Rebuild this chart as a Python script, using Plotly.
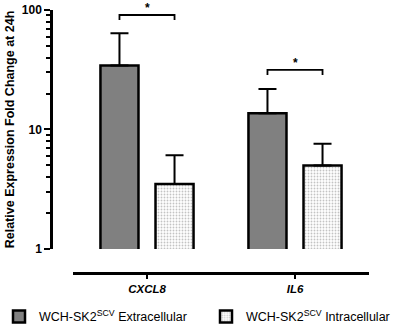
import plotly.graph_objects as go
import math

genes = ["CXCL8", "IL6"]
extracellular_mean = [34.3, 13.7]
extracellular_upper = [63.8, 21.8]
intracellular_mean = [3.5, 5.0]
intracellular_upper = [6.1, 7.6]
y_ticks = [1, 10, 100]
minor_ticks = [2, 3, 4, 5, 6, 7, 8, 9, 20, 30, 40, 50, 60, 70, 80, 90]
bracket_level = [90.8, 31.5]
bracket_foot = [82.5, 28.6]

xpos = list(range(len(genes)))
bw = 0.257
half = 0.186

fig = go.Figure()
fig.add_trace(go.Bar(
    x=xpos, y=extracellular_mean,
    width=bw, offset=-half - bw / 2,
    marker=dict(color="#808080", line=dict(color="black", width=2.5)),
    error_y=dict(type="data", symmetric=False,
                 array=[u - m for u, m in zip(extracellular_upper, extracellular_mean)],
                 arrayminus=[0, 0], color="black", thickness=2, width=9),
    name="WCH-SK2<sup>SCV</sup> Extracellular", legend="legend",
))
fig.add_trace(go.Bar(
    x=xpos, y=intracellular_mean,
    width=bw, offset=half - bw / 2,
    marker=dict(color="white", line=dict(color="black", width=2.5),
                pattern=dict(shape=".", size=3, solidity=0.3, fgcolor="#888888", bgcolor="white")),
    error_y=dict(type="data", symmetric=False,
                 array=[u - m for u, m in zip(intracellular_upper, intracellular_mean)],
                 arrayminus=[0, 0], color="black", thickness=2, width=9),
    name="WCH-SK2<sup>SCV</sup> Intracellular", legend="legend2",
))

for i in xpos:
    fig.add_trace(go.Scatter(
        x=[i - half, i - half, i + half, i + half],
        y=[bracket_foot[i], bracket_level[i], bracket_level[i], bracket_foot[i]],
        mode="lines", line=dict(color="black", width=1.8),
        showlegend=False, hoverinfo="skip"))
    fig.add_annotation(x=i, y=math.log10(bracket_level[i]), text="<b>*</b>",
                       showarrow=False, yanchor="bottom", yshift=-2,
                       font=dict(size=12, color="black"))

W = 347.0
leg_common = dict(orientation="h", yanchor="middle", y=-0.167, xanchor="left",
                  font=dict(size=12.5), itemclick=False, bgcolor="rgba(0,0,0,0)")

fig.update_layout(
    width=403, height=327,
    margin=dict(l=51, r=5, t=10, b=54, autoexpand=False),
    plot_bgcolor="white", paper_bgcolor="white",
    barmode="overlay",
    font=dict(family="Liberation Sans, Arial, sans-serif", color="black"),
    showlegend=True,
    legend=dict(x=(-1 - 51) / W, **leg_common),
    legend2=dict(x=(206 - 51) / W, **leg_common),
    xaxis=dict(domain=[22 / W, 318 / W], range=[-0.5, 1.5], tickvals=xpos,
               ticktext=["<b><i>%s</i></b>" % g for g in genes],
               showline=True, linecolor="black", linewidth=2.5,
               ticks="outside", ticklen=4, tickwidth=2, tickcolor="black",
               tickfont=dict(size=11.5), showgrid=False, zeroline=False,
               anchor="free", position=0, automargin=False),
    yaxis=dict(type="log", domain=[0.0913, 1], range=[0, 2],
               tickvals=y_ticks, ticktext=["<b>%d</b>" % t for t in y_ticks],
               showline=True, linecolor="black", linewidth=2.5,
               ticks="outside", ticklen=6, tickwidth=2, tickcolor="black",
               ticklabelstandoff=0,
               minor=dict(ticks="outside", ticklen=4, tickwidth=1.5, tickcolor="black",
                          tickvals=minor_ticks, showgrid=False),
               tickfont=dict(size=12), showgrid=False, zeroline=False,
               anchor="free", position=0, automargin=True,
               title=dict(text="<b>Relative Expression Fold Change at 24h</b>",
                          font=dict(size=12.5), standoff=3)),
)

fig.write_html("out.html", config={"displayModeBar": False},
               post_script="document.body.style.margin='0';")
